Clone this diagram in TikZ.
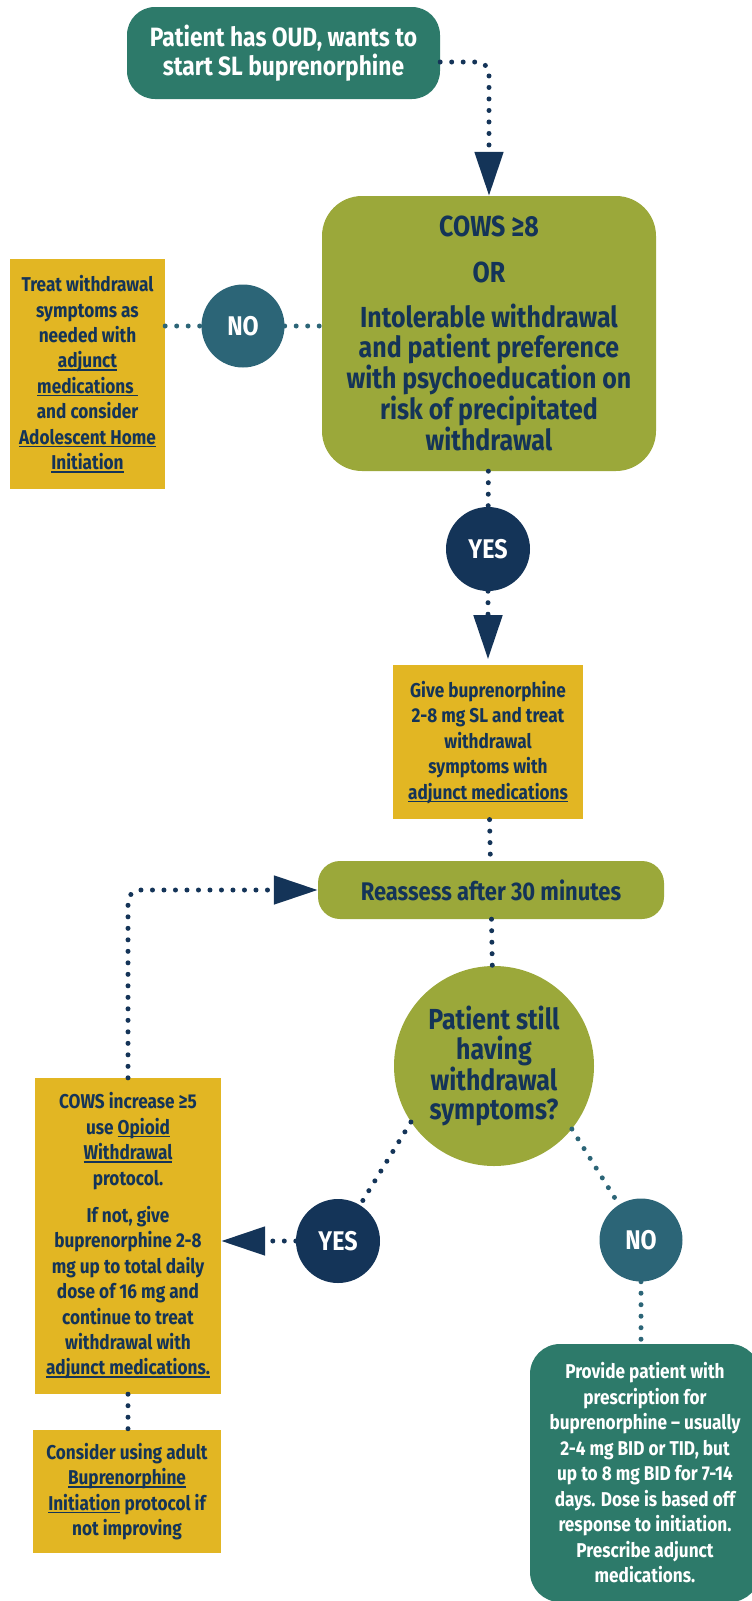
\documentclass[tikz,border=0pt]{standalone}
\usepackage{fontspec}
\setmainfont{Fira Sans}[FakeStretch=0.86]
\usepackage{xcolor}
\usepackage{tikz}
\usetikzlibrary{shapes.geometric, arrows.meta, positioning}

\definecolor{oudteal}{RGB}{45,122,106}
\definecolor{oudolive}{RGB}{155,168,58}
\definecolor{oudgold}{RGB}{226,182,35}
\definecolor{oudnavy}{RGB}{20,52,88}
\definecolor{oudblue}{RGB}{44,101,119}

% underlined link text
\newcommand{\lnk}[1]{\leavevmode\setbox0\hbox{#1}\rlap{\rule[-3pt]{\wd0}{1.6pt}}\box0\relax}

\begin{document}
\begin{tikzpicture}[x=1pt, y=-1pt,
  startbox/.style={rectangle, rounded corners=28pt, fill=oudteal, text=white,
                   align=center, inner sep=0pt,
                   font=\bfseries\fontsize{26.5}{29}\selectfont},
  decbox/.style={rectangle, rounded corners=40pt, fill=oudolive, text=oudnavy,
                 align=center, inner sep=0pt,
                 font=\bfseries\fontsize{29}{29.5}\selectfont},
  goldbox/.style={rectangle, fill=oudgold, text=oudnavy, align=center,
                  inner sep=0pt, font=\bfseries\fontsize{20}{25.4}\selectfont},
  yescirc/.style={circle, fill=oudnavy, text=white, minimum size=84pt,
                  inner sep=0pt, font=\bfseries\fontsize{27}{29}\selectfont},
  nocirc/.style={circle, fill=oudblue, text=white, minimum size=83pt,
                 inner sep=0pt, font=\bfseries\fontsize{27}{29}\selectfont},
  dotnavy/.style={draw=oudnavy, line width=5pt, line cap=round,
                  dash pattern=on 0pt off 11.5pt},
  dotblue/.style={draw=oudblue, line width=5pt, line cap=round,
                  dash pattern=on 0pt off 11.5pt},
  tip/.style={-{Triangle[width=28pt, length=44pt]}}
]
\useasboundingbox (0,0) rectangle (752,1601);

\node[startbox, minimum width=313pt, minimum height=92pt] (start) at (283.5,53)
  {Patient has OUD, wants to\\start SL buprenorphine};
\node[decbox, minimum width=334pt, minimum height=275pt] (cows) at (489,333.5)
  {COWS ≥8\\[16pt]OR\\[16pt]Intolerable withdrawal\\and patient preference\\with psychoeducation on\\risk of precipitated\\withdrawal};
\node[nocirc] (no1) at (243,326) {NO};
\node[goldbox, minimum width=155pt, minimum height=230pt] (treat) at (87.5,374)
  {Treat withdrawal\\symptoms as\\needed with\\\lnk{adjunct}\\\lnk{medications\ }\\and consider\\\lnk{Adolescent Home}\\\lnk{Initiation}};
\node[yescirc] (yes1) at (488,549) {YES};
\node[goldbox, minimum width=190pt, minimum height=154pt, below=74pt of yes1] (give)
  {Give buprenorphine\\2-8 mg SL and treat\\withdrawal\\symptoms with\\\lnk{adjunct medications}};
\node[decbox, rounded corners=22pt, minimum width=346pt, minimum height=58pt,
      font=\bfseries\fontsize{25.5}{29}\selectfont] (reassess) at (491,890)
  {Reassess after 30 minutes};
\node[decbox, circle, minimum size=200pt] (still) at (494,1066)
  {Patient still\\having\\withdrawal\\symptoms?};
\node[yescirc] (yes2) at (338,1241) {YES};
\node[nocirc] (no2) at (641,1240) {NO};
\node[goldbox, minimum width=186pt, minimum height=316pt] (increase) at (128,1236)
  {COWS increase ≥5\\use \lnk{Opioid}\\\lnk{Withdrawal}\\protocol.\\[12pt]If not, give\\buprenorphine 2-8\\mg up to total daily\\dose of 16 mg and\\continue to treat\\withdrawal with\\\lnk{adjunct medications.}};
\node[goldbox, minimum width=188pt, minimum height=123pt] (adult) at (127,1491.5)
  {Consider using adult\\\lnk{Buprenorphine}\\\lnk{Initiation} protocol if\\not improving};
\node[startbox, rounded corners=30pt, minimum width=230pt, minimum height=258pt,
      font=\bfseries\fontsize{20}{25.5}\selectfont] (provide) at (645,1473)
  {Provide patient with\\prescription for\\buprenorphine – usually\\2-4 mg BID or TID, but\\up to 8 mg BID for 7-14\\days. Dose is based off\\response to initiation.\\Prescribe adjunct\\medications.};

\draw[dotnavy, tip, rounded corners=12pt] ([yshift=-9pt]start.east) -| (cows.north);
\draw[dotblue] (treat.east |- no1) -- (no1);
\draw[dotblue] (no1) -- (cows.west |- no1);
\draw[dotnavy] (cows) -- (yes1);
\draw[dotnavy, tip, shorten >=6pt] (yes1) -- (give);
\draw[dotnavy] (give) -- (reassess);
\draw[dotnavy] (reassess) -- (still);
\draw[dotnavy] (still.214) -- (yes2);
\draw[dotblue] (still.-39) -- (no2);
\draw[dotnavy, tip] (yes2) -- (increase.east |- yes2);
\draw[dotnavy, tip, rounded corners=12pt] (increase.north) |- (reassess.west);
\draw[dotnavy] (increase.south) -- (increase.south |- adult.north);
\draw[dotblue] (no2) -- (no2 |- provide.north);

\end{tikzpicture}
\end{document}
